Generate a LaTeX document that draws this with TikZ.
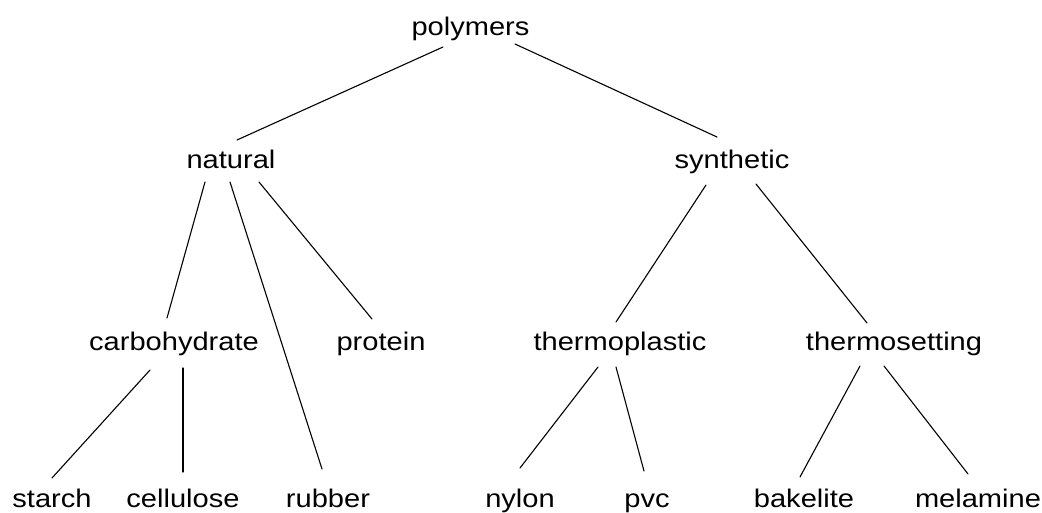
\documentclass[tikz,border=0pt]{standalone}
\usepackage{fontspec}
\setmainfont{Liberation Sans}[FakeStretch=1.14]
\begin{document}
\begin{tikzpicture}[x=1pt,y=-1pt,
  lbl/.style={anchor=base,inner sep=0pt,font=\fontsize{25.5}{30}\selectfont},
  branch/.style={line width=1.1pt,line cap=round}]
\useasboundingbox (0,0) rectangle (1042,512);
% labels, placed on their baselines
\node[lbl] (poly) at (470.5,35) {polymers};
\node[lbl] (natural) at (231,168) {natural};
\node[lbl] (synthetic) at (732,168) {synthetic};
\node[lbl] (carb) at (174,350) {carbohydrate};
\node[lbl] (protein) at (381,350) {protein};
\node[lbl] (tplastic) at (620,350) {thermoplastic};
\node[lbl] (tsetting) at (894,350) {thermosetting};
\node[lbl] (starch) at (52,507) {starch};
\node[lbl] (cellulose) at (183,507) {cellulose};
\node[lbl] (rubber) at (328,507) {rubber};
\node[lbl] (nylon) at (520,507) {nylon};
\node[lbl] (pvc) at (647,507) {pvc};
\node[lbl] (bakelite) at (804,507) {bakelite};
\node[lbl] (melamine) at (978,507) {melamine};
% branches
\draw[branch] ([shift={(-27.5,12)}]poly.base) -- ([shift={(6,-28)}]natural.base);
\draw[branch] ([shift={(44.5,9)}]poly.base) -- ([shift={(-15,-31)}]synthetic.base);
\draw[branch] ([shift={(-26,14)}]natural.base) -- ([shift={(-7,-32)}]carb.base);
\draw[branch] ([shift={(-1,14)}]natural.base) -- ([shift={(-6,-38)}]rubber.base);
\draw[branch] ([shift={(28,14)}]natural.base) -- ([shift={(-9,-31)}]protein.base);
\draw[branch] ([shift={(-26,17)}]synthetic.base) -- ([shift={(-4,-28)}]tplastic.base);
\draw[branch] ([shift={(24,16)}]synthetic.base) -- ([shift={(-27,-27)}]tsetting.base);
\draw[branch] ([shift={(-24,20)}]carb.base) -- ([shift={(0,-29)}]starch.base);
\draw[branch] ([shift={(9,18)}]carb.base) -- ([shift={(0,-35)}]cellulose.base);
\draw[branch] ([shift={(-22,17)}]tplastic.base) -- ([shift={(0,-39)}]nylon.base);
\draw[branch] ([shift={(-4,17)}]tplastic.base) -- ([shift={(-3,-36)}]pvc.base);
\draw[branch] ([shift={(-34,16)}]tsetting.base) -- ([shift={(-4,-30)}]bakelite.base);
\draw[branch] ([shift={(-10,16)}]tsetting.base) -- ([shift={(-10,-33)}]melamine.base);
\end{tikzpicture}
\end{document}
